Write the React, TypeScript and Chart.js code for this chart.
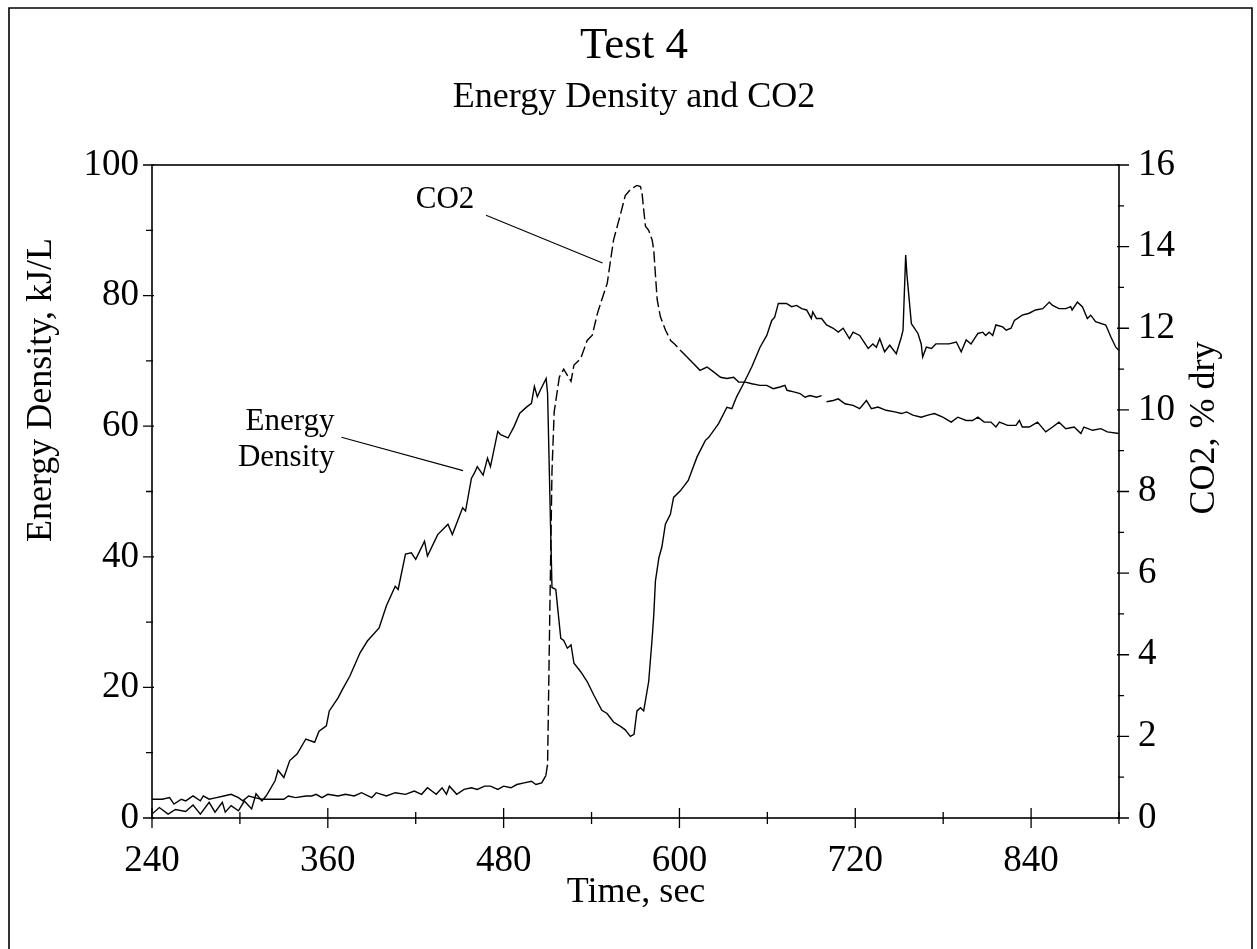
import React, { useEffect, useRef } from 'react';
import { Chart, registerables } from 'chart.js';

Chart.register(...registerables);

const FONT = '"Liberation Serif", "Times New Roman", Times, serif';

// ---- data (time in seconds) ----
const energyTime = [
  240, 245, 251, 256, 263, 268, 273, 279, 283, 288, 290, 294, 299, 303, 308, 311, 315, 318, 324, 326,
  330, 334, 339, 345, 351, 354, 359, 361, 367, 370, 375, 382, 387, 395, 400, 406, 408, 413, 417, 420,
  426, 428, 435, 442, 445, 452, 454, 458, 460, 462, 466, 469, 471, 476, 478, 483, 487, 491, 496, 499,
  501, 503, 505, 509, 510, 512, 513, 515.6, 519, 521, 523.5, 526, 528, 532.6, 537, 541.6, 547, 550.6, 555, 560,
  563, 566.5, 569, 571, 573.4, 575.6, 579, 581.4, 582.5, 583.6, 586, 588, 590.4, 593.8, 596, 600.6, 606, 612, 617.6, 620,
  626.7, 632.4, 635.8, 639, 643.7, 649.4, 655, 659.6, 663, 665, 667.5, 673, 676.6, 680, 683.4, 686.8, 690, 691, 693.5, 697,
  700.4, 705, 708.4, 711.7, 716, 718.5, 723, 728.8, 732, 734.4, 736.7, 740, 743.5, 748, 751.5, 752.6, 754.4, 755.3, 758.3, 762.8,
  765, 766, 768.5, 772, 775, 779.7, 784, 789, 792.3, 795.7, 799, 803.7, 807, 809, 811.4, 813.8, 816, 820.6, 823, 826.3,
  828.6, 834, 838.7, 843, 848, 852.4, 854.7, 859, 863.7, 867, 868, 871.6, 875, 878.4, 880.7, 884, 891, 894.4, 897.8, 900,
];
const energyValue = [
  0.6, 1.6, 0.6, 1.3, 1.0, 2.0, 0.6, 2.4, 0.9, 2.4, 0.9, 1.9, 1.1, 2.6, 1.4, 3.7, 2.6, 3.4, 5.7, 7.3,
  6.2, 8.8, 9.8, 12.1, 11.6, 13.3, 14.1, 16.4, 18.4, 19.7, 21.7, 25.3, 27.1, 29.1, 32.5, 35.5, 35.0, 40.4, 40.6, 39.6,
  42.4, 40.1, 43.4, 45.0, 43.4, 47.5, 47.0, 52.0, 52.8, 53.8, 52.5, 55.1, 53.8, 59.2, 58.7, 58.2, 59.9, 62.0, 63.0, 63.5,
  66.1, 64.5, 65.5, 67.3, 65.0, 45.0, 35.3, 35.0, 27.5, 27.2, 26.0, 26.5, 23.7, 22.4, 20.9, 18.8, 16.5, 16.0, 14.7, 14.0,
  13.5, 12.5, 12.8, 16.4, 16.9, 16.4, 20.9, 27.6, 31.2, 36.3, 39.9, 41.5, 45.0, 46.5, 49.1, 50.1, 51.7, 55.3, 57.8, 58.3,
  60.4, 62.9, 62.7, 64.5, 66.5, 69.1, 72.1, 73.9, 76.2, 76.7, 78.8, 78.8, 78.3, 78.5, 78.0, 77.8, 76.5, 77.5, 76.5, 76.5,
  75.5, 75.0, 74.4, 75.0, 73.4, 74.4, 73.9, 71.9, 72.6, 72.1, 73.4, 71.4, 72.4, 71.1, 73.7, 74.7, 86.2, 83.1, 75.7, 74.2,
  72.6, 70.6, 72.1, 71.9, 72.6, 72.6, 72.6, 72.9, 71.4, 73.2, 72.6, 74.2, 74.4, 73.9, 74.4, 73.9, 75.5, 75.2, 74.7, 75.0,
  76.2, 77.0, 77.3, 77.8, 78.0, 79.0, 78.5, 78.0, 78.0, 78.3, 77.8, 79.0, 78.3, 76.5, 77.0, 76.0, 75.5, 73.7, 72.1, 71.6,
];

const co2Time = [
  240, 247, 252, 255, 260, 263, 268, 273, 275, 279, 284, 289, 294, 299, 302, 306, 310, 315, 319, 324,
  330, 333, 338, 345, 349, 352, 356, 360, 367, 372, 378, 383, 390, 393, 400, 406, 413, 419, 424, 428,
  434, 438, 441, 443, 448, 453, 458, 462, 467, 471, 476, 480, 485, 489, 494, 499, 502, 506, 508.8, 510,
  511.5, 513, 514.5, 518, 521, 526, 528, 532.6, 537, 540.5, 544, 547, 550.7, 553, 555, 559.8, 563, 566.5, 571, 573.4,
  574.5, 575.6, 576.8, 579, 581.4, 582.5, 583.7, 584.8, 587, 590.5, 594, 597, 600.6, 605, 609.7, 614, 618.8, 623.3, 628, 632.4,
  637, 640.4, 645, 649.4, 655, 659.6, 664, 668.6, 672, 673.4, 678, 682.3, 685.7, 689, 693.6, 697, 698.5, 700.4, 705, 708.4,
  713, 718.5, 723, 727.6, 731, 735.5, 741, 747, 751.5, 755, 759.3, 765, 769.6, 774, 779.7, 785.5, 790, 795.7, 800, 803.7,
  808, 812.6, 816, 818.4, 824, 829.7, 832, 834, 838.7, 844.4, 850, 854.7, 859, 863.7, 869.4, 874, 876, 882, 887.6, 892,
  900,
];
const co2Value: (number | null)[] = [
  0.46, 0.46, 0.50, 0.34, 0.46, 0.42, 0.54, 0.42, 0.54, 0.46, 0.50, 0.54, 0.58, 0.50, 0.42, 0.54, 0.50, 0.46, 0.46, 0.46,
  0.46, 0.54, 0.50, 0.54, 0.54, 0.58, 0.50, 0.58, 0.54, 0.58, 0.54, 0.62, 0.50, 0.62, 0.54, 0.62, 0.58, 0.66, 0.58, 0.74,
  0.58, 0.74, 0.58, 0.78, 0.58, 0.70, 0.74, 0.70, 0.78, 0.78, 0.70, 0.78, 0.74, 0.82, 0.86, 0.90, 0.82, 0.86, 1.04, 1.32,
  5.0, 8.5, 9.95, 10.8, 11.0, 10.7, 11.1, 11.26, 11.7, 11.83, 12.36, 12.7, 13.1, 13.67, 14.16, 14.8, 15.25, 15.4, 15.5, 15.47,
  15.3, 14.9, 14.5, 14.4, 14.16, 13.9, 13.26, 12.7, 12.28, 11.95, 11.7, 11.6, 11.46, 11.3, 11.13, 10.97, 11.05, 10.93, 10.8, 10.77,
  10.8, 10.68, 10.68, 10.64, 10.6, 10.6, 10.52, 10.56, 10.6, 10.48, 10.44, 10.4, 10.31, 10.35, 10.31, 10.35, null, 10.2, 10.23, 10.27,
  10.15, 10.11, 10.03, 10.23, 10.03, 10.07, 9.99, 9.95, 9.91, 9.95, 9.87, 9.82, 9.87, 9.91, 9.82, 9.7, 9.82, 9.74, 9.74, 9.82,
  9.7, 9.7, 9.58, 9.7, 9.62, 9.62, 9.74, 9.58, 9.58, 9.7, 9.46, 9.58, 9.7, 9.54, 9.58, 9.42, 9.58, 9.5, 9.54, 9.46,
  9.42,
];

// dashed part of the CO2 trace (seconds)
const co2DashStart = 508;
const co2DashEnd = 606;

// ---- axes / ticks ----
const xMajorTicks = [240, 360, 480, 600, 720, 840];
const xMinorTicks = [300, 420, 540, 660, 780, 900];
const yLeftMajorTicks = [0, 20, 40, 60, 80, 100];
const yLeftMinorTicks = [10, 30, 50, 70, 90];
const yRightMajorTicks = [0, 2, 4, 6, 8, 10, 12, 14, 16];
const yRightMinorTicks = [1, 3, 5, 7, 9, 11, 13, 15];

// ---- texts ----
const titleText = 'Test 4';
const subtitleText = 'Energy Density and CO2';
const xTitle = 'Time, sec';
const yLeftTitle = 'Energy Density, kJ/L';
const yRightTitle = 'CO2, % dry';

// annotation anchors in data coordinates (time, kJ/L)
const co2Label = { text: 'CO2', t: 440, v: 94.6 };
const co2Leader = [{ t: 468, v: 92.3 }, { t: 547.5, v: 85.0 }];
const energyLabelLines = [
  { text: 'Energy', t: 364.5, v: 60.6 },
  { text: 'Density', t: 364.5, v: 55.1 },
];
const energyLeader = [{ t: 369.3, v: 58.3 }, { t: 452.3, v: 53.2 }];

const decorPlugin = {
  id: 'decor',
  afterDraw(chart: any) {
    const { ctx, chartArea: a, scales } = chart;
    const sx = scales.x, sy = scales.y, sy1 = scales.y1;
    ctx.save();
    ctx.strokeStyle = '#000';
    ctx.fillStyle = '#000';

    // outer frame
    ctx.lineWidth = 1.6;
    ctx.beginPath();
    ctx.moveTo(9, 949);
    ctx.lineTo(9, 8);
    ctx.lineTo(1252, 8);
    ctx.lineTo(1252, 949);
    ctx.stroke();

    // plot frame
    ctx.lineWidth = 1.6;
    ctx.strokeRect(a.left, a.top, a.right - a.left, a.bottom - a.top);

    // ticks
    ctx.lineWidth = 1.3;
    ctx.beginPath();
    xMajorTicks.forEach((v) => {
      const p = sx.getPixelForValue(v);
      ctx.moveTo(p, a.bottom - 10);
      ctx.lineTo(p, a.bottom + 10);
    });
    xMinorTicks.forEach((v) => {
      const p = sx.getPixelForValue(v);
      ctx.moveTo(p, a.bottom - 6);
      ctx.lineTo(p, a.bottom + 6);
    });
    yLeftMajorTicks.forEach((v) => {
      const p = sy.getPixelForValue(v);
      ctx.moveTo(a.left - 9, p);
      ctx.lineTo(a.left + 2, p);
    });
    yLeftMinorTicks.forEach((v) => {
      const p = sy.getPixelForValue(v);
      ctx.moveTo(a.left - 6, p);
      ctx.lineTo(a.left + 1, p);
    });
    yRightMajorTicks.forEach((v) => {
      const p = sy1.getPixelForValue(v);
      ctx.moveTo(a.right - 2, p);
      ctx.lineTo(a.right + 10, p);
    });
    yRightMinorTicks.forEach((v) => {
      const p = sy1.getPixelForValue(v);
      ctx.moveTo(a.right - 1, p);
      ctx.lineTo(a.right + 5, p);
    });
    ctx.stroke();

    // titles
    ctx.textAlign = 'center';
    ctx.textBaseline = 'middle';
    ctx.font = `45px ${FONT}`;
    ctx.fillText(titleText, 634, 46);
    ctx.font = `36px ${FONT}`;
    ctx.fillText(subtitleText, 634, 98);
    ctx.fillText(xTitle, 636, 893);

    ctx.save();
    ctx.translate(42, 390);
    ctx.rotate(-Math.PI / 2);
    ctx.fillText(yLeftTitle, 0, 0);
    ctx.restore();

    ctx.save();
    ctx.translate(1205, 428);
    ctx.rotate(-Math.PI / 2);
    ctx.fillText(yRightTitle, 0, 0);
    ctx.restore();

    // annotations
    ctx.font = `31px ${FONT}`;
    ctx.textAlign = 'center';
    ctx.fillText(co2Label.text, sx.getPixelForValue(co2Label.t), sy.getPixelForValue(co2Label.v));
    ctx.textAlign = 'right';
    energyLabelLines.forEach((l) => {
      ctx.fillText(l.text, sx.getPixelForValue(l.t), sy.getPixelForValue(l.v));
    });
    ctx.lineWidth = 1.1;
    ctx.beginPath();
    ctx.moveTo(sx.getPixelForValue(co2Leader[0].t), sy.getPixelForValue(co2Leader[0].v));
    ctx.lineTo(sx.getPixelForValue(co2Leader[1].t), sy.getPixelForValue(co2Leader[1].v));
    ctx.moveTo(sx.getPixelForValue(energyLeader[0].t), sy.getPixelForValue(energyLeader[0].v));
    ctx.lineTo(sx.getPixelForValue(energyLeader[1].t), sy.getPixelForValue(energyLeader[1].v));
    ctx.stroke();

    ctx.restore();
  },
};

export default function App() {
  const ref = useRef<HTMLCanvasElement | null>(null);

  useEffect(() => {
    if (!ref.current) return;
    const energyData = energyTime.map((t, i) => ({ x: t, y: energyValue[i] }));
    const co2Data = co2Time.map((t, i) => ({ x: t, y: co2Value[i] }));

    const chart = new Chart(ref.current, {
      type: 'line',
      data: {
        datasets: [
          {
            label: 'Energy Density',
            data: energyData,
            yAxisID: 'y',
            borderColor: '#000',
            borderWidth: 1.4,
            pointRadius: 0,
            tension: 0,
            fill: false,
          },
          {
            label: 'CO2',
            data: co2Data as any,
            yAxisID: 'y1',
            borderColor: '#000',
            borderWidth: 1.4,
            pointRadius: 0,
            tension: 0,
            fill: false,
            spanGaps: false,
            segment: {
              borderDash: (c: any) =>
                c.p0.parsed.x >= co2DashStart && c.p1.parsed.x <= co2DashEnd ? [11, 4] : undefined,
            },
          },
        ],
      },
      options: {
        animation: false,
        responsive: false,
        maintainAspectRatio: false,
        devicePixelRatio: 1,
        layout: { padding: { top: 165, left: 0, right: 0, bottom: 0 } },
        plugins: {
          legend: { display: false },
          tooltip: { enabled: false },
          title: { display: false },
        },
        scales: {
          x: {
            type: 'linear',
            position: 'bottom',
            min: 240,
            max: 900,
            afterBuildTicks: (s: any) => {
              s.ticks = xMajorTicks.map((v) => ({ value: v }));
            },
            afterFit: (s: any) => {
              s.height = 949 - 818;
            },
            grid: { display: false, drawTicks: false },
            border: { display: false },
            ticks: {
              color: '#000',
              font: { family: FONT, size: 37 },
              padding: 21,
              maxRotation: 0,
              autoSkip: false,
            },
          },
          y: {
            type: 'linear',
            position: 'left',
            min: 0,
            max: 100,
            afterBuildTicks: (s: any) => {
              s.ticks = yLeftMajorTicks.map((v) => ({ value: v }));
            },
            afterFit: (s: any) => {
              s.width = 152;
            },
            grid: { display: false, drawTicks: false },
            border: { display: false },
            ticks: {
              color: '#000',
              font: { family: FONT, size: 37 },
              padding: 13,
            },
          },
          y1: {
            type: 'linear',
            position: 'right',
            min: 0,
            max: 16,
            afterBuildTicks: (s: any) => {
              s.ticks = yRightMajorTicks.map((v) => ({ value: v }));
            },
            afterFit: (s: any) => {
              s.width = 1257 - 1119;
            },
            grid: { display: false, drawTicks: false },
            border: { display: false },
            ticks: {
              color: '#000',
              font: { family: FONT, size: 37 },
              padding: 19,
            },
          },
        },
      },
      plugins: [decorPlugin],
    });

    return () => chart.destroy();
  }, []);

  return (
    <div
      style={{
        position: 'fixed',
        left: 0,
        top: 0,
        width: 1257,
        height: 949,
        background: '#fff',
        overflow: 'hidden',
      }}
    >
      <canvas ref={ref} width={1257} height={949} style={{ display: 'block', width: 1257, height: 949 }} />
    </div>
  );
}
